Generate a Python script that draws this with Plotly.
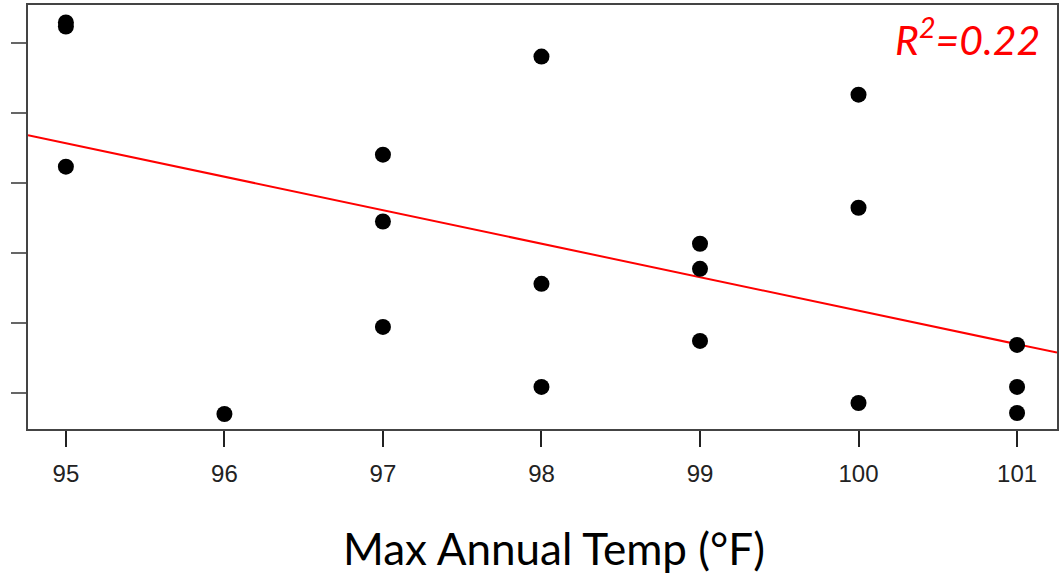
import numpy as np
import plotly.graph_objects as go

# Data (y is in unlabeled axis units)
temp_f = [95, 95, 95, 96, 97, 97, 97, 98, 98, 98, 99, 99, 99, 100, 100, 100, 101, 101, 101]
response = [6.286, 6.229, 4.229, 0.70, 4.40, 3.447, 1.943, 5.80, 2.557, 1.086,
            3.129, 2.771, 1.743, 5.257, 3.643, 0.857, 1.686, 1.086, 0.714]
x_ticks = [95, 96, 97, 98, 99, 100, 101]
y_ticks = [1, 2, 3, 4, 5, 6]
r2_label = "<i>R<sup>2</sup>=0.22</i>"
x_title = "Max Annual Temp (°F)"

x_range = [94.761, 101.252]
y_range = [0.486, 6.536]

slope, intercept = np.polyfit(temp_f, response, 1)
line_x = np.array(x_range)
line_y = slope * line_x + intercept

fig = go.Figure()
fig.add_trace(go.Scatter(x=line_x, y=line_y, mode="lines",
                         line=dict(color="#ff0000", width=2), hoverinfo="skip"))
fig.add_trace(go.Scatter(x=temp_f, y=response, mode="markers",
                         marker=dict(color="black", size=16, line=dict(width=0))))

fig.update_layout(
    width=1062, height=575,
    margin=dict(l=28, r=3, t=5, b=146),
    plot_bgcolor="white", paper_bgcolor="white",
    showlegend=False,
    xaxis=dict(range=x_range, tickvals=x_ticks, ticktext=[str(v) for v in x_ticks],
               showgrid=False, zeroline=False, showline=True, mirror=True,
               linecolor="#444", linewidth=1.5,
               ticks="outside", ticklen=16, tickwidth=1.5, tickcolor="#222",
               ticklabelstandoff=6,
               tickfont=dict(family="Arial, Liberation Sans", size=24, color="#222")),
    yaxis=dict(range=y_range, tickvals=y_ticks, showticklabels=False,
               showgrid=False, zeroline=False, showline=True, mirror=True,
               linecolor="#444", linewidth=1.5,
               ticks="outside", ticklen=15, tickwidth=1.5, tickcolor="#666"),
    annotations=[
        dict(text=r2_label, xref="paper", yref="paper", x=0.985, y=1.0 - 3/424,
             xanchor="right", yanchor="top", showarrow=False,
             font=dict(family="Lato", size=41, color="#ff0000")),
        dict(text=x_title, xref="paper", yref="paper", x=0.511, y=-(520-429)/424,
             xanchor="center", yanchor="top", showarrow=False,
             font=dict(family="Lato", size=44, color="black")),
    ],
)

fig.write_html("out.html", config={"displayModeBar": False},
               post_script="document.body.style.margin='0';document.body.style.padding='0';")
